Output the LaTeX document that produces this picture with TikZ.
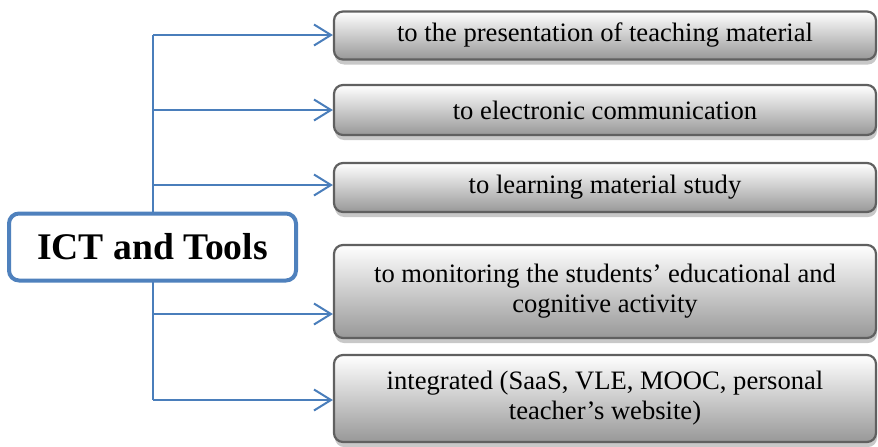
\documentclass[tikz,border=0pt]{standalone}
\usepackage{fontspec}
\setmainfont{Liberation Serif}
\usetikzlibrary{arrows.meta,shadows}
\definecolor{lineblue}{RGB}{74,126,187}
\definecolor{mainblue}{RGB}{79,129,189}
\definecolor{boxborder}{RGB}{96,96,96}
\definecolor{boxbottom}{RGB}{152,152,152}
\definecolor{shadowgray}{RGB}{200,200,200}
\tikzset{
  itembox/.style={draw=boxborder, line width=2.2pt, rounded corners=9pt,
    top color=white, bottom color=boxbottom, minimum width=542pt,
    align=center, font=\fontsize{26.6}{30}\selectfont, inner sep=0pt,
    drop shadow={shadow xshift=1pt, shadow yshift=-5pt, fill=shadowgray, opacity=1}},
  mainbox/.style={draw=mainblue, line width=4pt, rounded corners=10pt, fill=white,
    minimum width=287pt, minimum height=67pt, inner sep=0pt,
    font=\fontsize{37.6}{42}\selectfont\bfseries},
  conn/.style={draw=lineblue, line width=2pt},
  arr/.style={conn, -{Straight Barb[length=17pt,width=21pt,line width=2pt]}}
}
\begin{document}
\begin{tikzpicture}[x=1pt,y=-1pt]
\useasboundingbox (0,0) rectangle (878,447);
% item boxes
\node[itembox, minimum height=48pt] (b1) at (605,35.5) {to the presentation of teaching material};
\node[itembox, minimum height=50pt] (b2) at (605,110) {to electronic communication};
\node[itembox, minimum height=49pt] (b3) at (605,187.5) {to learning material study};
\node[itembox, minimum height=93pt] (b4) at (605,291.5) {to monitoring the students’ educational and\\ cognitive activity};
\node[itembox, minimum height=87pt] (b5) at (605,398.5) {integrated (SaaS, VLE, MOOC, personal\\ teacher’s website)};
% trunk
\coordinate (ttop) at (153,35);
\coordinate (tbot) at (153,400);
\coordinate (t1) at (153,35);
\coordinate (t2) at (153,110);
\coordinate (t3) at (153,185);
\coordinate (t4) at (153,314);
\coordinate (t5) at (153,400);
\draw[conn] (ttop) -- (tbot);
\draw[arr] (t1) -- (t1 -| b1.west);
\draw[arr] (t2) -- (t2 -| b2.west);
\draw[arr] (t3) -- (t3 -| b3.west);
\draw[arr] (t4) -- (t4 -| b4.west);
\draw[arr] (t5) -- (t5 -| b5.west);
% main box
\node[mainbox] (main) at (152.5,247) {ICT and Tools};
\end{tikzpicture}
\end{document}
